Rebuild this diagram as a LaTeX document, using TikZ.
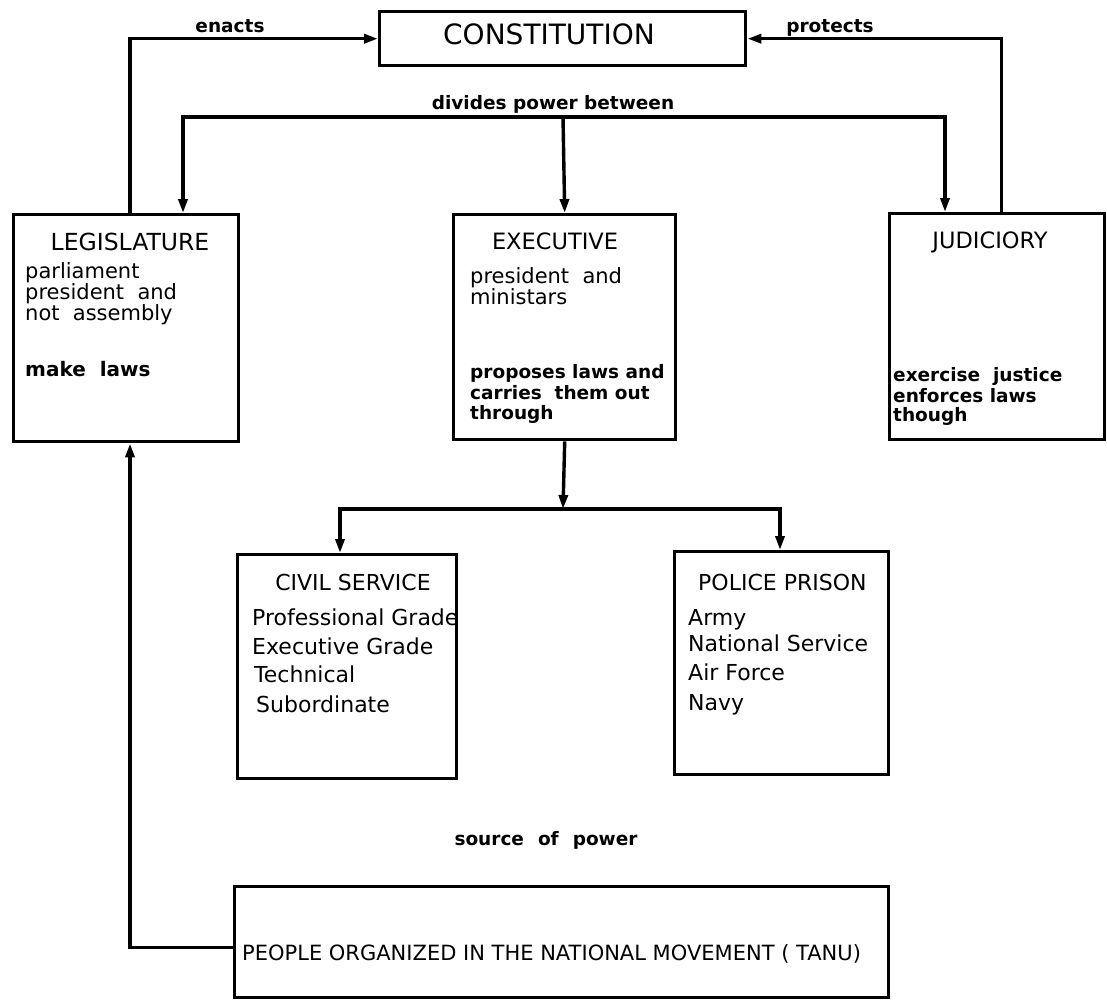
\documentclass[tikz,border=0pt]{standalone}
\usepackage{fontspec}
\setmainfont{DejaVu Sans}
\usetikzlibrary{arrows.meta}
\newcommand\fsz[1]{\fontsize{#1}{#1}\selectfont}
\begin{document}
\begin{tikzpicture}[x=1pt,y=-1pt,
  panel/.style={draw, line width=3.4pt, inner sep=0pt, anchor=north west},
  wire/.style={line width=3.4pt},
  feed/.style={wire, -{Triangle[length=14pt,width=9pt]}},
  title/.style={inner sep=0pt, anchor=base, font=\fsz{22.5}},
  txt/.style={inner sep=0pt, anchor=base west, font=\fsz{21}},
  note/.style={inner sep=0pt, anchor=base west, font=\fsz{18.5}\bfseries},
  lab/.style={inner sep=0pt, anchor=base, font=\fsz{18.5}\bfseries}]
\useasboundingbox (0,0) rectangle (1107,999);

% boxes
\node[panel, minimum width=366pt, minimum height=54pt] (con) at (378,10) {};
\node[panel, minimum width=225pt, minimum height=227pt] (leg) at (12,213) {};
\node[panel, minimum width=222pt, minimum height=225pt] (exe) at (452,213) {};
\node[panel, minimum width=215pt, minimum height=226pt] (jud) at (888,212) {};
\node[panel, minimum width=219pt, minimum height=224pt] (civ) at (236,553) {};
\node[panel, minimum width=214pt, minimum height=223pt] (pol) at (673,550) {};
\node[panel, minimum width=654pt, minimum height=111pt] (ppl) at (233,885) {};

% box texts
\node[title, font=\fsz{28}] (conT) at (549,44) {CONSTITUTION};

\node[title, font=\fsz{23.5}] (legT) at (130,250) {LEGISLATURE};
\node[txt] (leg1) at (25,278) {parliament};
\node[txt] (leg2) at (25,299) {president\ \ and};
\node[txt] (leg3) at (25,320) {not\ \ assembly};
\node[note, font=\fsz{20}\bfseries] (leg4) at (25,376) {make\ \ laws};

\node[title] (exeT) at (555,249) {EXECUTIVE};
\node[txt] (exe1) at (470,283) {president\ \ and};
\node[txt] (exe2) at (470,304) {ministars};
\node[note] (exe3) at (470,378) {proposes laws and};
\node[note] (exe4) at (470,399) {carries\ \ them out};
\node[note] (exe5) at (470,419) {through};

\node[title] (judT) at (990,248) {JUDICIORY};
\node[note] (jud1) at (893,381) {exercise\ \ justice};
\node[note] (jud2) at (893,402) {enforces laws};
\node[note] (jud3) at (893,421) {though};

\node[title, font=\fsz{22}] (civT) at (353,590) {CIVIL SERVICE};
\node[txt, font=\fsz{22}] (civ1) at (252,625) {Professional Grade};
\node[txt, font=\fsz{22}] (civ2) at (252,654) {Executive Grade};
\node[txt, font=\fsz{22}] (civ3) at (254,682) {Technical};
\node[txt, font=\fsz{22}] (civ4) at (256,712) {Subordinate};

\node[txt, font=\fsz{22}] (polT) at (698,590) {POLICE PRISON};
\node[txt, font=\fsz{22}] (pol1) at (688,625) {Army};
\node[txt, font=\fsz{22}] (pol2) at (688,651) {National Service};
\node[txt, font=\fsz{22}] (pol3) at (688,680) {Air Force};
\node[txt, font=\fsz{22}] (pol4) at (688,710) {Navy};

\node[txt] (pplT) at (242,960) {PEOPLE ORGANIZED IN THE NATIONAL MOVEMENT ( TANU)};

% connector labels
\node[lab] (enacts) at (230,32) {enacts};
\node[lab] (protects) at (830,32) {protects};
\node[lab] (divides) at (553,109) {divides power between};
\node[lab] (source) at (546,845) {source\hspace{14pt}of\hspace{14pt}power};

% connectors
\draw[feed] ([xshift=118pt]leg.north west) |- (con.west);
\draw[feed] ([xshift=-105pt]jud.north east) |- (con.east);

\coordinate (split) at (563,117);
\draw[feed] (split) -- (exe.north);
\draw[feed] (split) -| ([xshift=171pt]leg.north west);
\draw[feed] (split) -| ([xshift=57pt]jud.north west);

\coordinate (fork) at (563,509);
\draw[feed] (exe.south) -- (fork);
\draw[feed] (fork) -| ([xshift=104pt]civ.north west);
\draw[feed] (fork) -| ([xshift=107pt]pol.north west);

\draw[feed] ([yshift=-5pt]ppl.west) -| ([xshift=118pt]leg.south west);
\end{tikzpicture}
\end{document}
